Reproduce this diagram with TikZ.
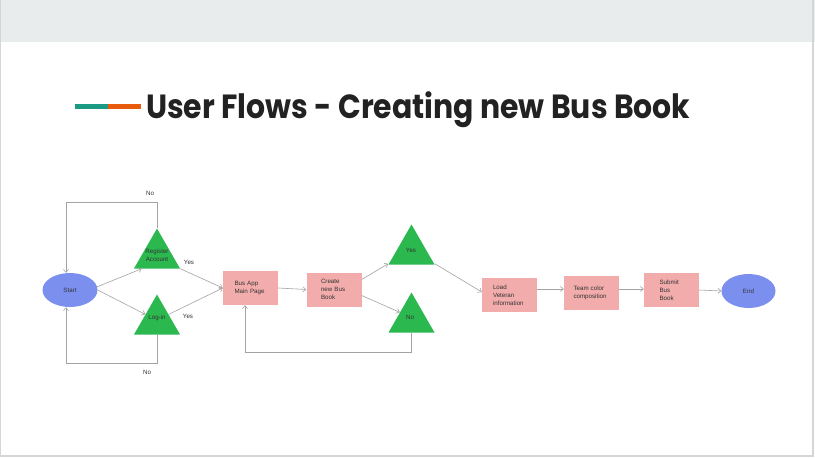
\documentclass[tikz,border=0pt]{standalone}
\usepackage{fontspec}
\setmainfont{Liberation Sans}
\newfontfamily\titlefont{Poppins}
\usetikzlibrary{arrows.meta,shapes.geometric,calc}
\definecolor{bandgray}{HTML}{E8ECED}
\definecolor{framegray}{HTML}{D4D6D8}
\definecolor{startblue}{HTML}{7B8FEF}
\definecolor{boxpink}{HTML}{F2ACAC}
\definecolor{trigreen}{HTML}{2BB84F}
\definecolor{linegray}{HTML}{A3A3A3}
\definecolor{accentteal}{HTML}{1A9983}
\definecolor{accentorange}{HTML}{E85A0C}
\definecolor{titleink}{HTML}{222222}
\definecolor{labelink}{HTML}{333333}
\tikzset{
  smalltext/.style={font=\fontsize{6.2}{7.8}\selectfont, text=labelink},
  oval/.style={ellipse, fill=startblue, minimum width=55, minimum height=34, inner sep=0, smalltext},
  stepbox/.style={rectangle, fill=boxpink, minimum width=55, minimum height=34, inner sep=0, align=left, smalltext},
  decision/.style={isosceles triangle, isosceles triangle stretches, shape border rotate=90,
     fill=trigreen, minimum width=46, minimum height=40, inner sep=0, anchor=apex},
  flow/.style={draw=linegray, line width=0.6, -{Straight Barb[length=3,width=5]}},
  plain/.style={draw=linegray, line width=0.6},
}
\begin{document}
\begin{tikzpicture}[x=1pt,y=-1pt]
\useasboundingbox (0,0) rectangle (815,458);
% slide frame
\fill[white] (0,0) rectangle (815,458);
\fill[bandgray] (0,0) rectangle (815,42);
\draw[framegray, line width=1.2] (0.6,0) -- (0.6,456) -- (813,456) -- (813,0);
% title
\fill[accentteal] (75,104) rectangle (108,109);
\fill[accentorange] (108,104) rectangle (141,109);
\node[anchor=base west, inner sep=0, text=titleink, yscale=1.12, font=\titlefont\bfseries\fontsize{29.9}{32}\selectfont] (title) at (146,118) {User Flows - Creating new Bus Book};
% nodes
\node[oval] (start) at (70,290) {Start};
\node[decision] (reg) at (157,228) {};
\node[smalltext, align=center] (regtxt) at (157,255) {Register\\Account};
\node[decision] (login) at (157,294) {};
\node[smalltext] (logintxt) at (157,318) {Log-in};
\node[stepbox, text width=32] (bus) at (250.5,288) {Bus App\\Main Page};
\node[stepbox, text width=26] (create) at (334,289.5) {Create\\new Bus\\Book};
\node[decision] (yes) at (411.5,224) {};
\node[smalltext] (yestxt) at (411,250) {Yes};
\node[decision] (no) at (411.5,292) {};
\node[smalltext] (notxt) at (410,317) {No};
\node[stepbox, text width=33] (load) at (509.5,295) {Load\\Veteran\\information};
\node[stepbox, text width=36] (team) at (591.5,293) {Team color\\composition};
\node[stepbox, text width=24] (submit) at (671.5,290) {Submit\\Bus\\Book};
\node[oval, minimum width=54] (end) at (748.5,291) {End};
% loop labels
\node[smalltext] (notop) at (150,193) {No};
\node[smalltext] (nobot) at (147,372) {No};
\node[smalltext] (yestop) at (189,262) {Yes};
\node[smalltext] (yesbot) at (188,316) {Yes};
% connectors
\draw[flow] ($(start.east)+(-1,-3)$) -- ($(reg.left corner)+(8,0)$);
\draw[flow] (start.east) -- (login.left side);
\draw[flow] (reg.right corner) -- (bus.west);
\draw[flow] (login.right side) -- (bus.west);
\draw[flow] (reg.apex) -- ++(0,-26) -| ($(start.north)+(-4,0)$);
\draw[flow] (login.lower side) -- ++(0,29) -| ($(start.south)+(-4,0)$);
\draw[flow] (bus.east) -- (create.west);
\draw[flow] ($(create.east)+(0,-10)$) -- ($(yes.left corner)+(0,-1)$);
\draw[flow] ($(create.east)+(0,6)$) -- (no.left side);
\draw[flow] (no.lower side) -- ++(0,20) -| ($(bus.south west)!0.4!(bus.south east)$);
\draw[flow] ($(yes.right corner)+(0,-1)$) -- ($(load.west)+(0,-3)$);
\draw[flow] ($(load.east)+(0,-6)$) -- ($(team.west)+(0,-4)$);
\draw[flow] ($(team.east)+(0,-4)$) -- ($(submit.west)+(0,-1)$);
\draw[flow] (submit.east) -- (end.west);
\end{tikzpicture}
\end{document}
